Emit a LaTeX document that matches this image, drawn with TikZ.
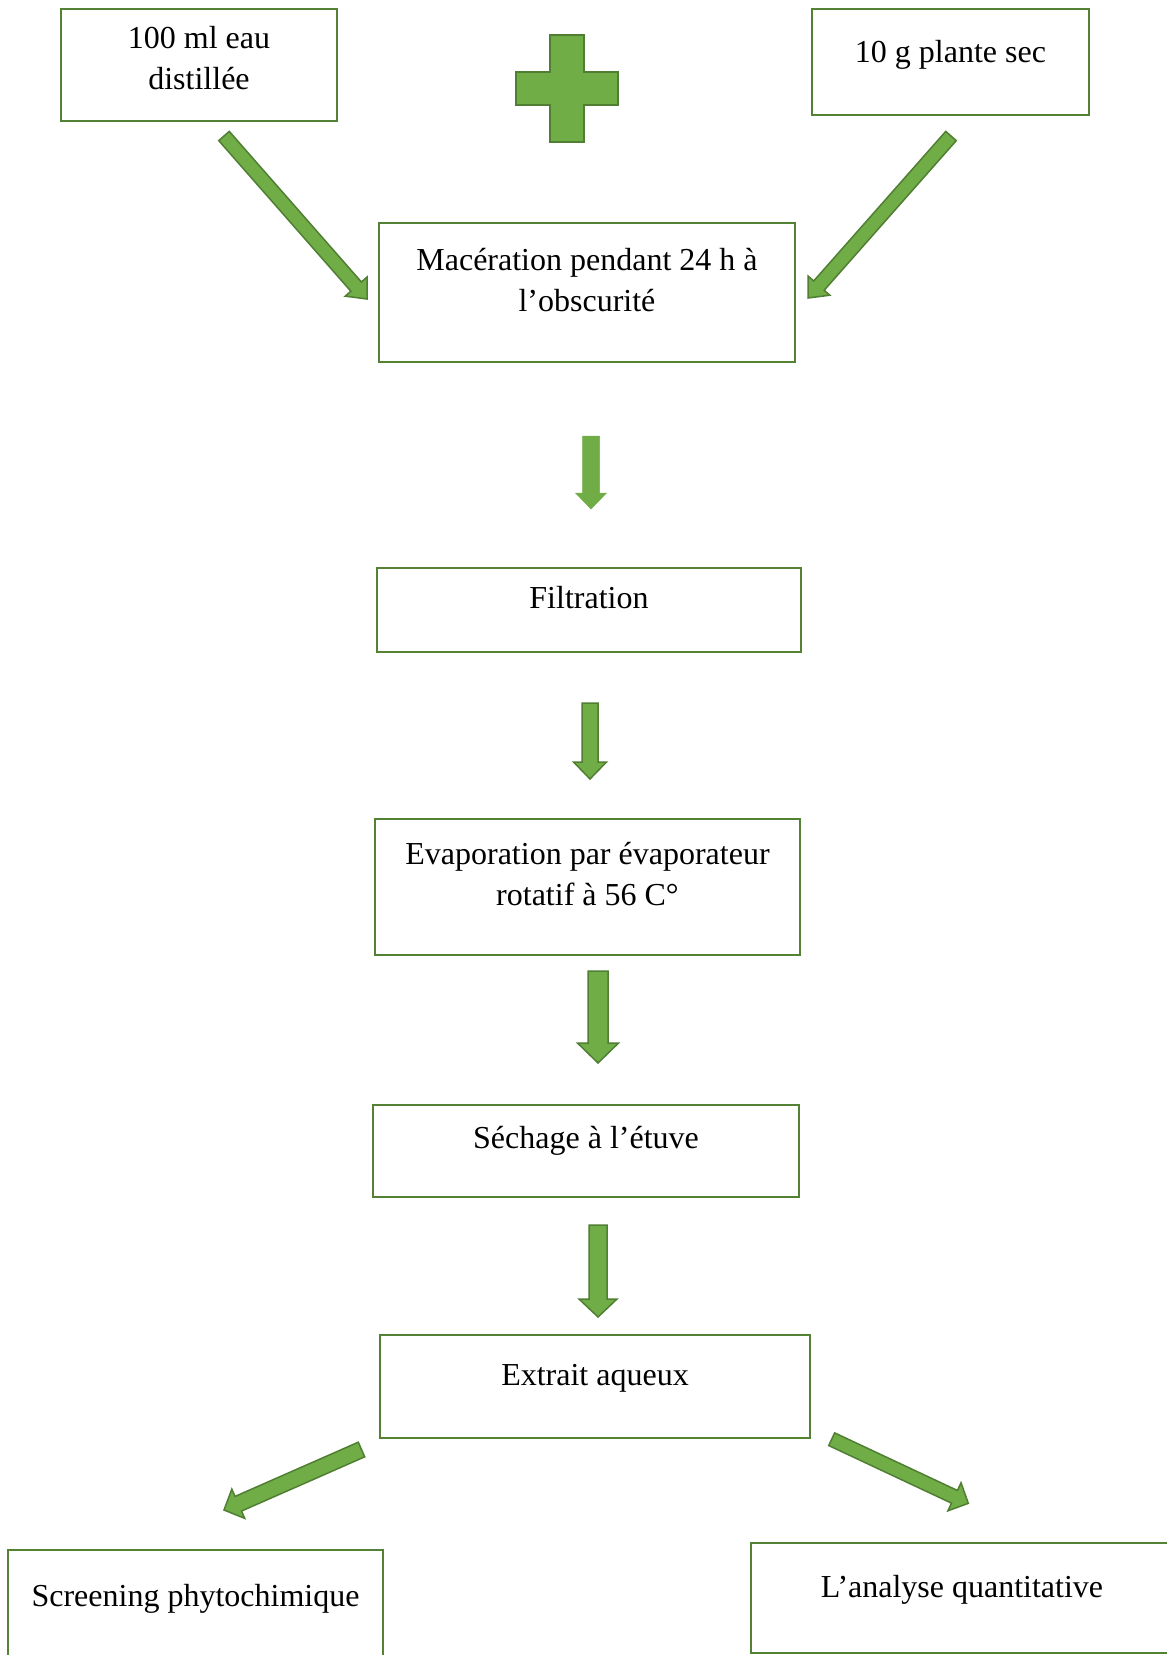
\documentclass[tikz,border=0pt]{standalone}
\usepackage{fontspec}
\setmainfont{Liberation Serif}
\usetikzlibrary{positioning,calc}
\definecolor{leaf}{HTML}{70AD47}
\definecolor{leafdark}{HTML}{507E32}
\definecolor{boxgreen}{HTML}{548235}
% block arrow: [style]{tail}{tip}{half shaft}{half head}{head length}
\newcommand{\blocfleche}[6][fleche]{%
 \coordinate (#2h) at ($(#3)!#6!(#2)$);
 \draw[#1] ($(#2)!#4!90:(#3)$) -- ($(#2h)!#4!90:(#3)$) -- ($(#2h)!#5!90:(#3)$) -- (#3)
  -- ($(#2h)!#5!-90:(#3)$) -- ($(#2h)!#4!-90:(#3)$) -- ($(#2)!#4!-90:(#3)$) -- cycle;}

\begin{document}
\begin{tikzpicture}[x=1pt,y=-1pt,
 etape/.style={draw=boxgreen,line width=2pt,rectangle,inner sep=0pt,anchor=north west},
 txt/.style={font=\fontsize{32}{41}\selectfont,align=center,inner sep=0pt,anchor=north},
 fleche/.style={fill=leaf,draw=leafdark,line width=1.5pt,line join=miter},
 flechelisse/.style={fill=leaf,draw=leaf,line width=0.5pt}]
 \useasboundingbox (0,0) rectangle (1167,1655);

 % boxes
 \node[etape,minimum width=276pt,minimum height=112pt] (eau) at (60,8) {};
 \node[etape,minimum width=277pt,minimum height=106pt] (plante) at (811,8) {};
 \node[etape,minimum width=416pt,minimum height=139pt] (mac) at (378,222) {};
 \node[etape,minimum width=424pt,minimum height=84pt] (filt) at (376,567) {};
 \node[etape,minimum width=425pt,minimum height=136pt] (evap) at (374,818) {};
 \node[etape,minimum width=426pt,minimum height=92pt] (sech) at (372,1104) {};
 \node[etape,minimum width=430pt,minimum height=103pt] (extr) at (379,1334) {};
 \node[etape,minimum width=375pt,minimum height=126pt] (screen) at (7,1549) {};
 \node[etape,minimum width=422pt,minimum height=110pt] (quanti) at (750,1542) {};

 % texts
 \node[txt,below=18pt of eau.north] (eauT) {100 ml eau\\distillée};
 \node[txt,below=32pt of plante.north] (planteT) {10 g plante sec};
 \node[txt,below=26pt of mac.north] (macT) {Macération pendant 24 h à\\l’obscurité};
 \node[txt,below=19pt of filt.north] (filtT) {Filtration};
 \node[txt,below=24pt of evap.north] (evapT) {Evaporation par évaporateur\\rotatif à 56 C°};
 \node[txt,below=22pt of sech.north] (sechT) {Séchage à l’étuve};
 \node[txt,below=30pt of extr.north] (extrT) {Extrait aqueux};
 \node[txt,below=35pt of screen.north] (screenT) {Screening phytochimique};
 \node[txt,below=33pt of quanti.north] (quantiT) {L’analyse quantitative};

 % plus sign
 \draw[fleche] (550,35) -- (584,35) -- (584,72) -- (618,72) -- (618,105) -- (584,105)
  -- (584,142) -- (550,142) -- (550,105) -- (516,105) -- (516,72) -- (550,72) -- cycle;

 % arrows
 \foreach \n/\st/\tx/\ty/\px/\py/\sw/\hw/\hl in {
   1/flechelisse/591/436/591/509/8.5/15.5/16,
   2/fleche/590/703/590/779/8/16.5/17,
   3/fleche/598/971/598/1063/10/20.5/20,
   4/fleche/598/1225/598/1317/9/19/18,
   5/fleche/224/136/367/299/7/14.5/16.5,
   6/fleche/951/136/808/298/7/14.5/16.5,
   7/fleche/361.5/1449.5/224/1510/8/16/15.6,
   8/fleche/831.7/1439.2/968.3/1503.3/7/15.5/15.3}{
  \coordinate (t\n) at (\tx,\ty);
  \coordinate (p\n) at (\px,\py);
  \blocfleche[\st]{t\n}{p\n}{\sw pt}{\hw pt}{\hl pt}
 }
\end{tikzpicture}
\end{document}
